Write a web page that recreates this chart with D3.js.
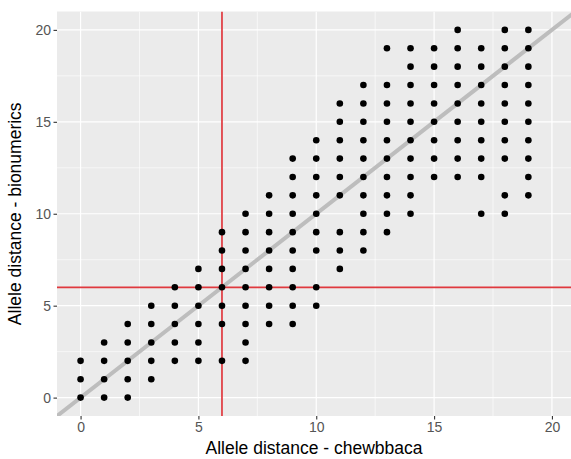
<!DOCTYPE html>
<html>
<head>
<meta charset="utf-8">
<script src="https://cdn.jsdelivr.net/npm/d3@7"></script>
<style>
  html, body { margin: 0; padding: 0; background: #ffffff; }
  svg { display: block; }
  text { font-family: "Liberation Sans", Arial, Helvetica, sans-serif; }
</style>
</head>
<body>
<svg id="chart" width="571" height="459"></svg>
<script>
// Allele distances per pair: x = chewbbaca, y values observed for bionumerics
const chewbbacaDistance = [0, 1, 2, 3, 4, 5, 6, 7, 8, 9, 10, 11, 12, 13, 14, 15, 16, 17, 18, 19];
const bionumericsDistances = [
  [0, 1, 2],
  [0, 1, 2, 3],
  [0, 1, 2, 3, 4],
  [1, 2, 3, 4, 5],
  [2, 3, 4, 5, 6],
  [2, 3, 4, 5, 6, 7],
  [2, 4, 5, 6, 7, 8, 9],
  [2, 3, 4, 5, 6, 7, 8, 9, 10],
  [4, 5, 6, 7, 8, 9, 10, 11],
  [4, 5, 6, 7, 8, 9, 10, 11, 12, 13],
  [5, 6, 8, 9, 10, 11, 12, 13, 14],
  [7, 8, 9, 11, 12, 13, 14, 15, 16],
  [8, 9, 10, 11, 12, 13, 14, 15, 16, 17],
  [9, 10, 11, 12, 13, 14, 15, 16, 17, 19],
  [10, 11, 12, 13, 14, 15, 16, 17, 18, 19],
  [12, 13, 14, 15, 16, 17, 18, 19],
  [12, 13, 14, 15, 16, 17, 18, 19, 20],
  [10, 12, 13, 14, 15, 16, 17, 18, 19],
  [10, 11, 13, 14, 15, 16, 17, 18, 19, 20],
  [11, 12, 13, 14, 15, 16, 17, 18, 19, 20]
];
const majorTicks = [0, 5, 10, 15, 20];
const minorTicks = [2.5, 7.5, 12.5, 17.5];
const cutoff = 6;
const xTitle = "Allele distance - chewbbaca";
const yTitle = "Allele distance - bionumerics";

const points = [];
chewbbacaDistance.forEach((x, i) => {
  bionumericsDistances[i].forEach(y => points.push({ x, y }));
});

const svg = d3.select("#chart");
const panel = { left: 57, top: 11.5, right: 575.5, bottom: 416 };

const x = d3.scaleLinear().domain([-1, 21]).range([panel.left, panel.right]);
const y = d3.scaleLinear().domain([-1, 21]).range([panel.bottom, panel.top]);

// clip region for the plotting panel
svg.append("defs").append("clipPath").attr("id", "panel-clip")
  .append("rect")
  .attr("x", panel.left).attr("y", panel.top)
  .attr("width", panel.right - panel.left).attr("height", panel.bottom - panel.top);

// panel background
svg.append("rect")
  .attr("x", panel.left).attr("y", panel.top)
  .attr("width", panel.right - panel.left).attr("height", panel.bottom - panel.top)
  .attr("fill", "#ebebeb");

const grid = svg.append("g").attr("clip-path", "url(#panel-clip)");

// minor grid
grid.selectAll(".vminor").data(minorTicks).join("line")
  .attr("x1", d => x(d)).attr("x2", d => x(d))
  .attr("y1", panel.top).attr("y2", panel.bottom)
  .attr("stroke", "#ffffff").attr("stroke-width", 0.6);
grid.selectAll(".hminor").data(minorTicks).join("line")
  .attr("y1", d => y(d)).attr("y2", d => y(d))
  .attr("x1", panel.left).attr("x2", panel.right)
  .attr("stroke", "#ffffff").attr("stroke-width", 0.6);

// major grid
grid.selectAll(".vmajor").data(majorTicks).join("line")
  .attr("x1", d => x(d)).attr("x2", d => x(d))
  .attr("y1", panel.top).attr("y2", panel.bottom)
  .attr("stroke", "#ffffff").attr("stroke-width", 1.2);
grid.selectAll(".hmajor").data(majorTicks).join("line")
  .attr("y1", d => y(d)).attr("y2", d => y(d))
  .attr("x1", panel.left).attr("x2", panel.right)
  .attr("stroke", "#ffffff").attr("stroke-width", 1.2);

const plot = svg.append("g").attr("clip-path", "url(#panel-clip)");

// identity line y = x
plot.append("line")
  .attr("x1", x(-1)).attr("y1", y(-1))
  .attr("x2", x(21)).attr("y2", y(21))
  .attr("stroke", "#bdbdbd").attr("stroke-width", 4);

// cutoff lines
plot.append("line")
  .attr("x1", x(cutoff)).attr("x2", x(cutoff))
  .attr("y1", panel.top).attr("y2", panel.bottom)
  .attr("stroke", "#e0393e").attr("stroke-width", 1.7);
plot.append("line")
  .attr("y1", y(cutoff)).attr("y2", y(cutoff))
  .attr("x1", panel.left).attr("x2", panel.right)
  .attr("stroke", "#e0393e").attr("stroke-width", 1.7);

// points
plot.selectAll("circle").data(points).join("circle")
  .attr("cx", d => x(d.x)).attr("cy", d => y(d.y))
  .attr("r", 3.3).attr("fill", "#000000");

// axes
const xAxis = svg.append("g")
  .attr("transform", `translate(0,${panel.bottom})`)
  .call(d3.axisBottom(x).tickValues(majorTicks).tickSize(3.5).tickPadding(3));
const yAxis = svg.append("g")
  .attr("transform", `translate(${panel.left},0)`)
  .call(d3.axisLeft(y).tickValues(majorTicks).tickSize(3.5).tickPadding(2.5));

[xAxis, yAxis].forEach(a => {
  a.select(".domain").remove();
  a.selectAll(".tick line").attr("stroke", "#333333").attr("stroke-width", 1.1);
  a.selectAll(".tick text")
    .attr("fill", "#555555")
    .style("font-size", "14px")
    .style("font-family", "'Liberation Sans', Arial, sans-serif");
});

// axis titles
svg.append("text")
  .attr("x", (panel.left + 571) / 2)
  .attr("y", 454)
  .attr("text-anchor", "middle")
  .attr("fill", "#000000")
  .style("font-size", "17.5px")
  .text(xTitle);

svg.append("text")
  .attr("transform", `translate(21,${(panel.top + panel.bottom) / 2}) rotate(-90)`)
  .attr("text-anchor", "middle")
  .attr("fill", "#000000")
  .style("font-size", "17.5px")
  .text(yTitle);
</script>
</body>
</html>
